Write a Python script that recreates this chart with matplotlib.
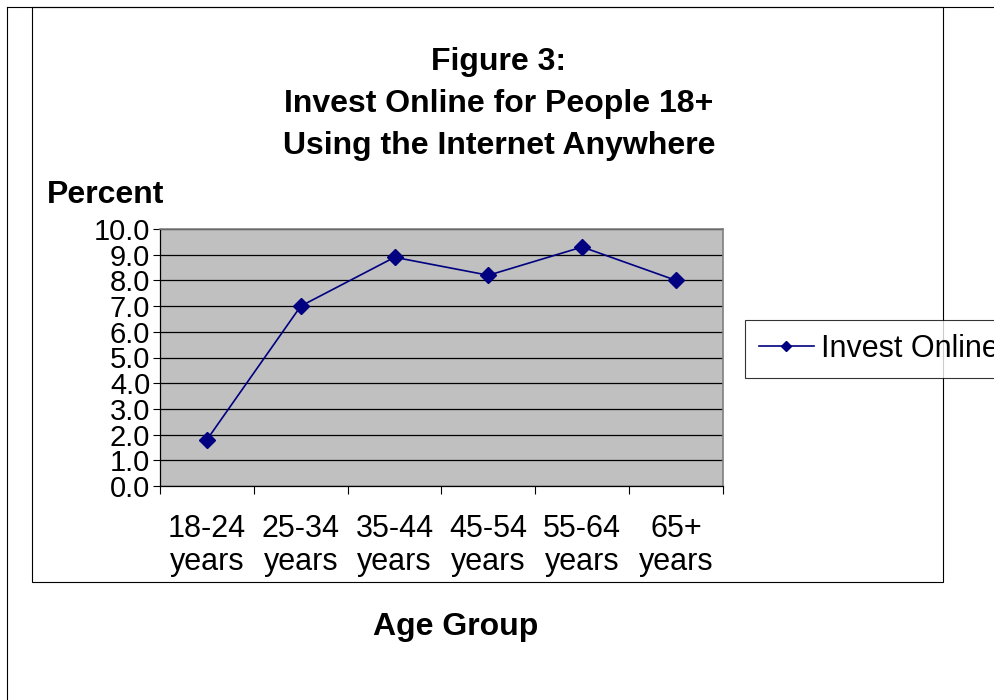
import matplotlib
matplotlib.use("Agg")
import matplotlib.pyplot as plt
from matplotlib.lines import Line2D
from matplotlib.patches import Rectangle

plt.rcParams['font.family'] = ['Liberation Sans', 'DejaVu Sans']

categories = ["18-24\nyears", "25-34\nyears", "35-44\nyears", "45-54\nyears", "55-64\nyears", "65+\nyears"]
invest_online = [1.8, 7.0, 8.9, 8.2, 9.3, 8.0]
y_ticks = [0.0, 1.0, 2.0, 3.0, 4.0, 5.0, 6.0, 7.0, 8.0, 9.0, 10.0]
series_name = "Invest Online"
title_lines = ["Figure 3:", "Invest Online for People 18+", "Using the Internet Anywhere"]

W, H = 995, 700
fig = plt.figure(figsize=(W / 100, H / 100), dpi=100)

def fx(x):
    return x / W

def fy(y):
    return 1 - y / H

# page / chart frame lines
fig.add_artist(Line2D([fx(7), fx(7)], [fy(7), fy(700)], color='black', lw=0.8, transform=fig.transFigure))
fig.add_artist(Line2D([fx(7), fx(995)], [fy(7), fy(7)], color='black', lw=0.8, transform=fig.transFigure))
fig.add_artist(Rectangle((fx(32), fy(582)), fx(943) - fx(32), fy(7) - fy(582),
                         fill=False, edgecolor='black', lw=0.8, transform=fig.transFigure, zorder=1))

ax = fig.add_axes([fx(160), fy(486), fx(723) - fx(160), fy(229) - fy(486)])
ax.set_facecolor('#C0C0C0')
n = len(categories)
xs = list(range(n))
ax.plot(xs, invest_online, color='#000080', lw=1.2, marker='D', markersize=8,
        markerfacecolor='#000080', markeredgecolor='#000080', label=series_name, zorder=3)

ax.set_xlim(-0.5, n - 0.5)
ax.set_ylim(0, 10)
ax.set_yticks(y_ticks)
ax.set_yticklabels([f"{v:.1f}" for v in y_ticks], fontsize=21)
ax.yaxis.grid(True, color='black', lw=0.9)
ax.set_axisbelow(True)
ax.tick_params(axis='y', direction='out', length=5, width=0.8, pad=2)

ax.set_xticks(xs)
ax.set_xticklabels(categories, fontsize=22)
for lab in ax.get_xticklabels():
    lab.set_linespacing(1.12)
ax.set_xticks([i - 0.5 for i in range(n + 1)], minor=True)
ax.tick_params(axis='x', which='major', length=0, pad=20)
ax.tick_params(axis='x', which='minor', direction='out', length=6, width=0.8)

for s in ['left', 'bottom']:
    ax.spines[s].set_color('black')
    ax.spines[s].set_linewidth(0.9)
for s in ['top', 'right']:
    ax.spines[s].set_color('#808080')
    ax.spines[s].set_linewidth(1.2)

# titles
for txt, y in zip(title_lines, [62, 104, 146]):
    fig.text(fx(499), fy(y), txt, ha='center', va='center', fontsize=23, fontweight='bold')
fig.text(fx(47), fy(195), "Percent", ha='left', va='center', fontsize=23, fontweight='bold')
fig.text(fx(456), fy(627), "Age Group", ha='center', va='center', fontsize=23, fontweight='bold')

leg = fig.legend(loc='center left', bbox_to_anchor=(fx(745), fy(349)), fontsize=22,
                 frameon=True, fancybox=False, shadow=False, handlelength=1.8,
                 handletextpad=0.25, borderpad=0.45, markerscale=0.6, borderaxespad=0)
leg.get_frame().set_edgecolor('black')
leg.get_frame().set_linewidth(0.8)
leg.set_zorder(5)

fig.savefig("out.png", dpi=100)
